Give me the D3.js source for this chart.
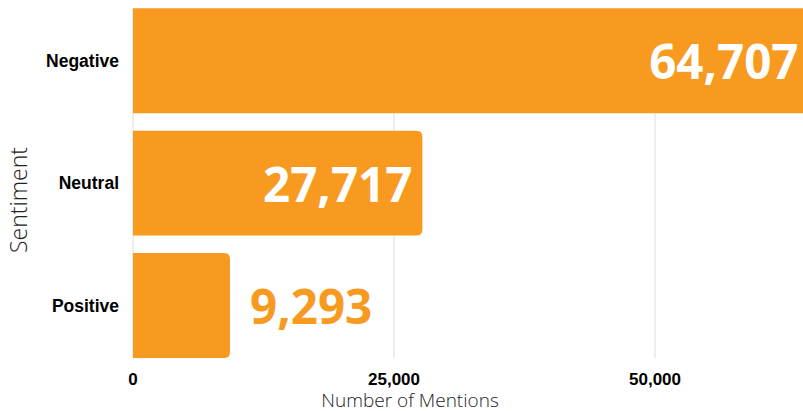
<!DOCTYPE html>
<html><head><meta charset="utf-8">
<script src="https://cdn.jsdelivr.net/npm/d3@7"></script>
<style>body{margin:0;background:#fff}svg{display:block}</style>
</head><body>
<svg id="c" width="803" height="411"></svg>
<script>
const categories = ["Negative", "Neutral", "Positive"];
const values = [64707, 27717, 9293];
const tickValues = [0, 25000, 50000];

const svg = d3.select("#c");
const color = "#F89A1F";
const x = d3.scaleLinear().domain([0, 25000]).range([133, 394]);
const y = d3.scaleBand().domain(categories).range([8.3, 358]).paddingInner(0.143).paddingOuter(0);

// gridlines
svg.append("g").selectAll("line").data(tickValues).join("line")
  .attr("x1", d => x(d)).attr("x2", d => x(d))
  .attr("y1", 8).attr("y2", 358)
  .attr("stroke", "#dcdcdc").attr("stroke-width", 1);

// bars with rounded right ends
const r = 6;
svg.append("g").selectAll("path").data(categories).join("path")
  .attr("fill", color)
  .attr("d", (c, i) => {
    const x0 = x(0), x1 = x(values[i]), y0 = y(c), h = y.bandwidth();
    return `M${x0},${y0}H${x1 - r}Q${x1},${y0} ${x1},${y0 + r}V${y0 + h - r}Q${x1},${y0 + h} ${x1 - r},${y0 + h}H${x0}Z`;
  });

// value labels
const fmt = d3.format(",");
svg.append("g").selectAll("text").data(categories).join("text")
  .attr("font-family", "'Open Sans', sans-serif")
  .attr("font-weight", 700)
  .attr("font-size", 47.5)
  .attr("dominant-baseline", "central")
  .attr("y", c => y(c) + y.bandwidth() / 2)
  .each(function (c, i) {
    const v = values[i];
    const inside = x(v) - x(0) > 200;
    d3.select(this)
      .attr("x", inside ? x(v) - 10 : x(v) + 20)
      .attr("text-anchor", inside ? "end" : "start")
      .attr("fill", inside ? "#fff" : color)
      .text(fmt(v));
  });

// category labels
svg.append("g").selectAll("text").data(categories).join("text")
  .attr("x", 119)
  .attr("y", c => y(c) + y.bandwidth() / 2)
  .attr("text-anchor", "end")
  .attr("dominant-baseline", "central")
  .attr("font-family", "'Liberation Sans', Arial, sans-serif")
  .attr("font-weight", 700)
  .attr("font-size", 17.5)
  .attr("fill", "#000")
  .text(d => d);

// x tick labels
svg.append("g").selectAll("text").data(tickValues).join("text")
  .attr("x", d => x(d))
  .attr("y", 385)
  .attr("text-anchor", "middle")
  .attr("font-family", "'Liberation Sans', Arial, sans-serif")
  .attr("font-weight", 700)
  .attr("font-size", 17)
  .attr("fill", "#000")
  .text(d => fmt(d));

// axis titles
svg.append("text")
  .attr("x", 410).attr("y", 407)
  .attr("text-anchor", "middle")
  .attr("font-family", "'Open Sans', sans-serif")
  .attr("font-weight", 300)
  .attr("font-size", 19)
  .attr("fill", "#222")
  .text("Number of Mentions");

svg.append("text")
  .attr("transform", "translate(27,200) rotate(-90)")
  .attr("text-anchor", "middle")
  .attr("font-family", "'Open Sans', sans-serif")
  .attr("font-weight", 300)
  .attr("font-size", 23)
  .attr("fill", "#222")
  .text("Sentiment");
</script>
</body></html>
